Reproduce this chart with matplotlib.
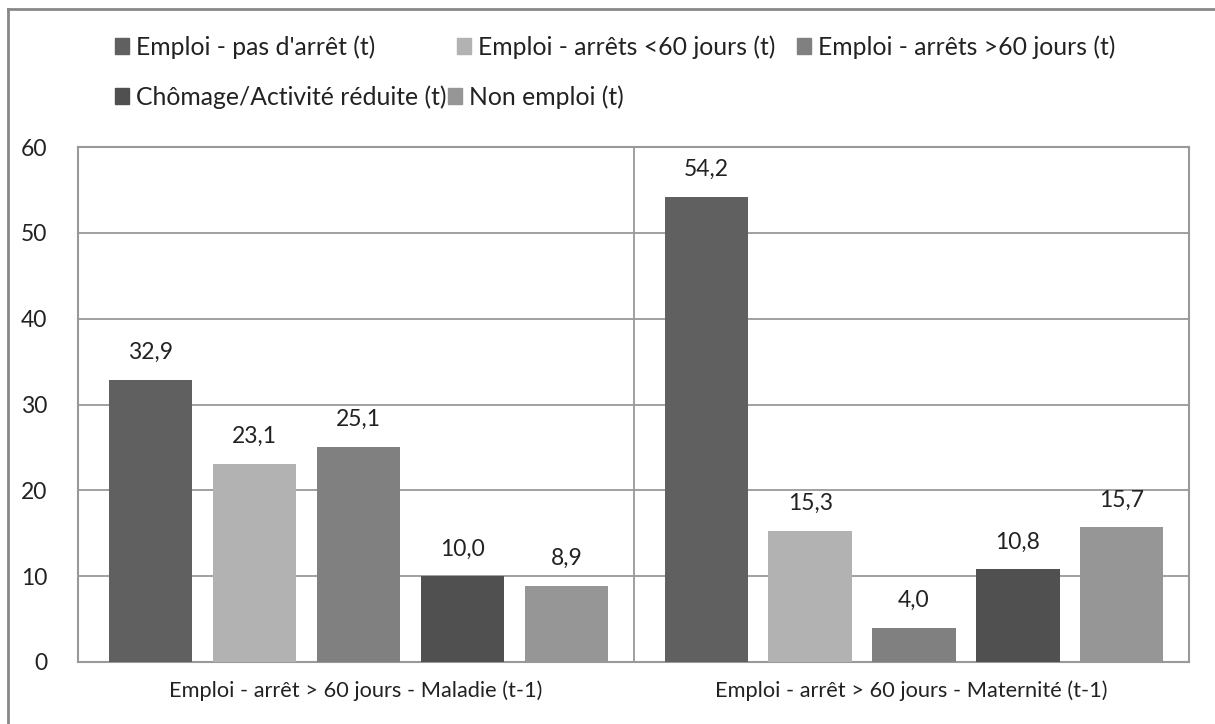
import matplotlib.pyplot as plt
from matplotlib.patches import Patch
from matplotlib.lines import Line2D
import numpy as np

# data
categories = ["Emploi - arrêt > 60 jours - Maladie (t-1)",
              "Emploi - arrêt > 60 jours - Maternité (t-1)"]
series = ["Emploi - pas d'arrêt (t)", "Emploi - arrêts <60 jours (t)",
          "Emploi - arrêts >60 jours (t)", "Chômage/Activité réduite (t)",
          "Non emploi (t)"]
values = [
    [32.9, 54.2],
    [23.1, 15.3],
    [25.1, 4.0],
    [10.0, 10.8],
    [8.9, 15.7],
]
colors = ["#606060", "#b2b2b2", "#808080", "#505050", "#969696"]

plt.rcParams['font.family'] = ['Lato', 'DejaVu Sans']

W, H = 1215, 724
fig = plt.figure(figsize=(W / 100, H / 100), dpi=100)
ax = fig.add_axes([78 / W, 1 - 662 / H, (1189 - 78) / W, (662 - 147) / H])

text_c = "#222222"
grid_c = "#999999"
x = np.arange(len(categories))
step = 0.187
width = 0.15
for i, (name, vals) in enumerate(zip(series, values)):
    pos = x + (i - 2) * step + 0.005
    bars = ax.bar(pos, vals, width=width, color=colors[i], zorder=3)
    for b, v in zip(bars, vals):
        ax.annotate(f"{v:.1f}".replace(".", ","),
                    (b.get_x() + b.get_width() / 2, v),
                    xytext=(0, 12), textcoords="offset points",
                    ha="center", va="bottom", fontsize=16.5, color=text_c)

ax.set_xlim(-0.5, 1.5)
ax.set_ylim(0, 60)
ax.set_yticks(range(0, 61, 10))
ax.yaxis.grid(True, color=grid_c, linewidth=1.3, zorder=0)
ax.axvline(0.5, color=grid_c, linewidth=1.3, zorder=0)
ax.set_xticks(x)
ax.set_xticklabels(categories)
ax.tick_params(length=0, labelsize=16.5, colors=text_c)
ax.tick_params(axis="x", labelsize=15.7, pad=13)
ax.tick_params(axis="y", pad=22)
for s in ax.spines.values():
    s.set_color(grid_c)
    s.set_linewidth(1.5)

# legend, laid out like the original (flowing entries)
legend_pos = [(115, 47), (457, 47), (797, 47), (115, 97), (448, 97)]
for i, (name, (px, py)) in enumerate(zip(series, legend_pos)):
    leg = fig.legend(handles=[Patch(color=colors[i], label=name)],
                     loc="center left", bbox_to_anchor=(px / W, 1 - py / H),
                     frameon=False, fontsize=17.8, handlelength=0.58,
                     handleheight=0.58, handletextpad=0.25, borderpad=0,
                     borderaxespad=0)
    for t in leg.get_texts():
        t.set_color(text_c)

# outer chart frame
fig.add_artist(Line2D([8 / W, 8 / W], [0, 1 - 9 / H], transform=fig.transFigure,
                      color="#888888", linewidth=2))
fig.add_artist(Line2D([8 / W, 1], [1 - 9 / H, 1 - 9 / H], transform=fig.transFigure,
                      color="#888888", linewidth=2))

fig.savefig("out.png", dpi=100)
